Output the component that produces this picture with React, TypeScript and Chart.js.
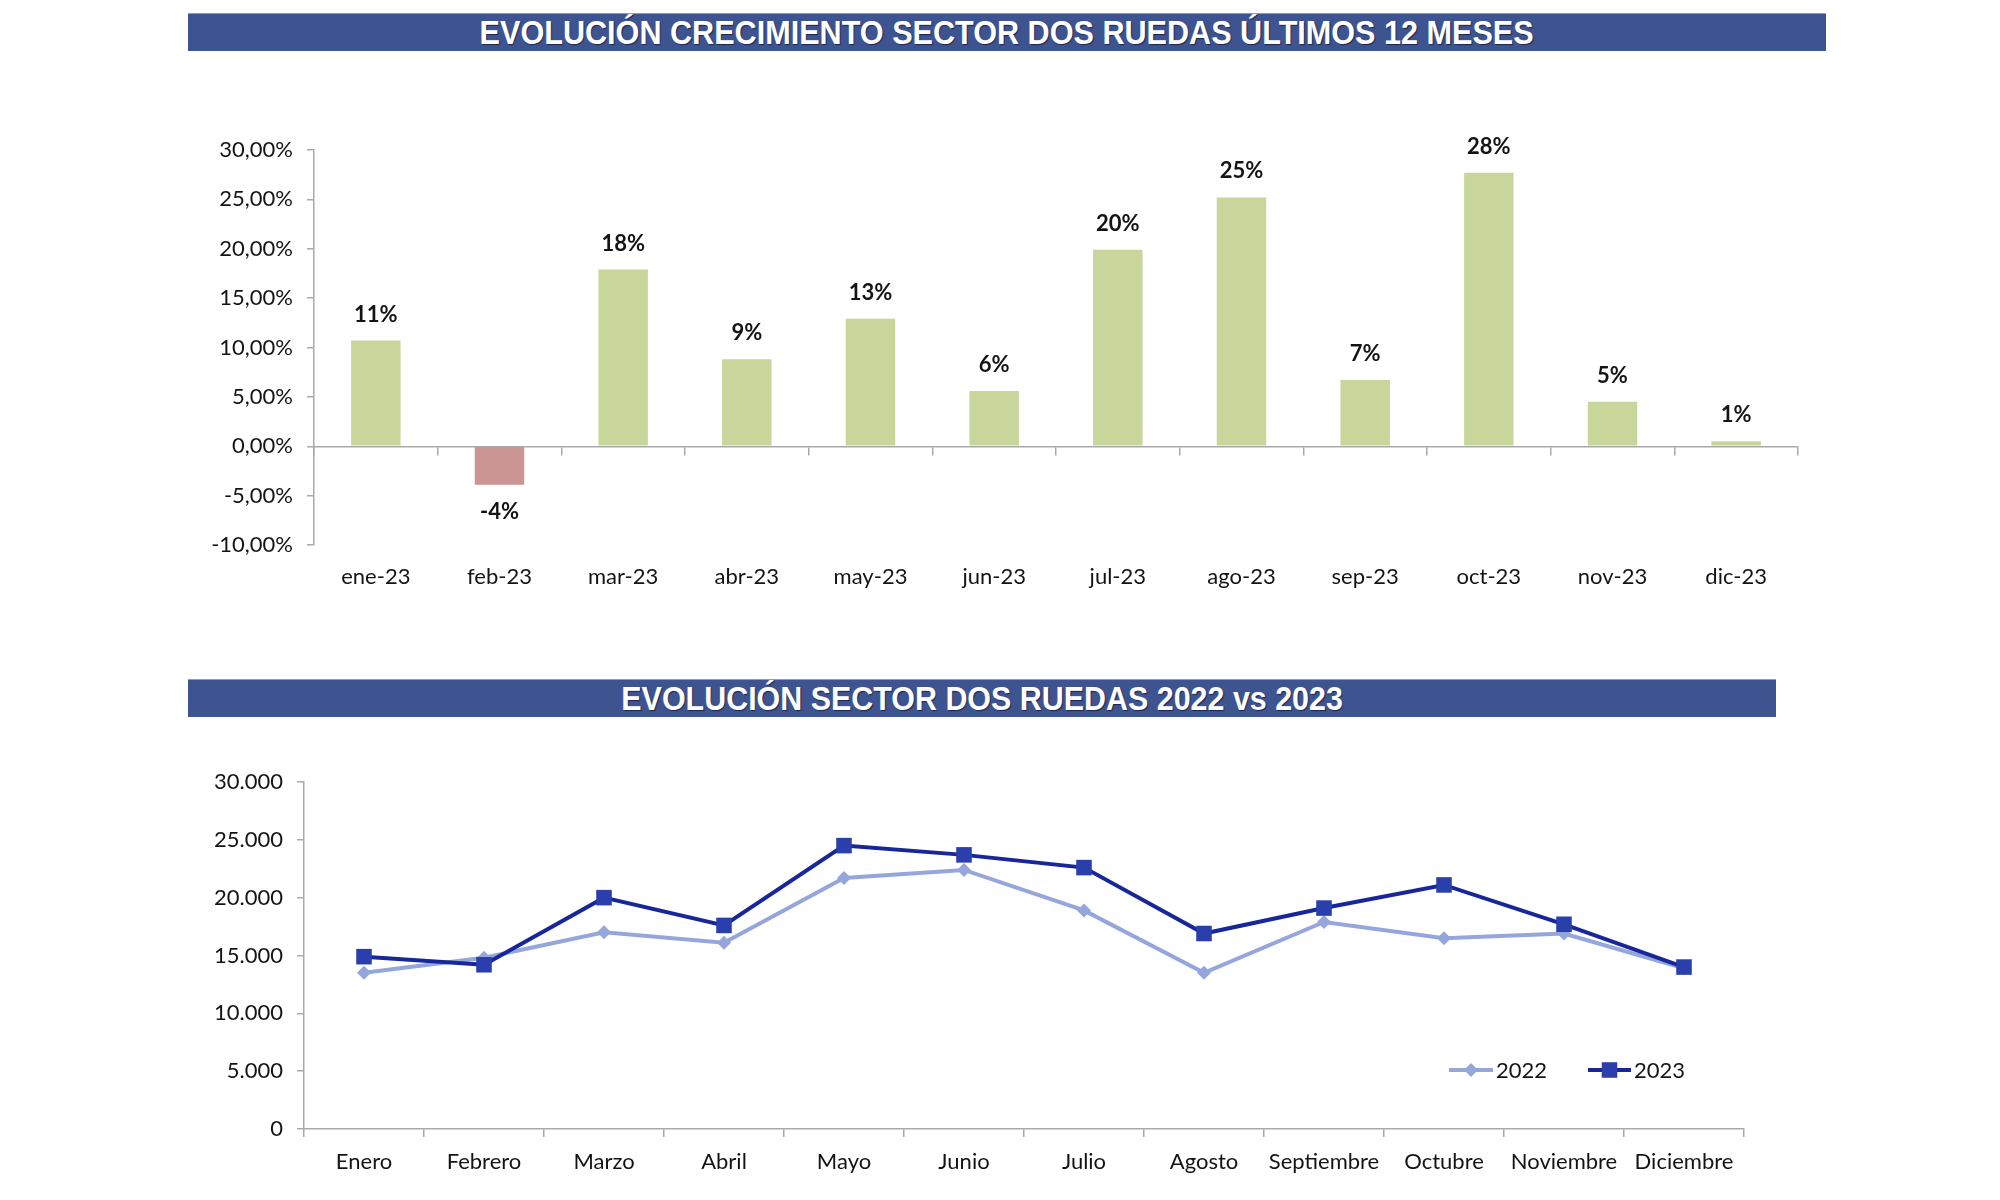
import React, { useEffect, useRef } from 'react';
import { Chart, registerables } from 'chart.js';

Chart.register(...registerables);

// ---------- data ----------
const months23 = ['ene-23', 'feb-23', 'mar-23', 'abr-23', 'may-23', 'jun-23', 'jul-23', 'ago-23', 'sep-23', 'oct-23', 'nov-23', 'dic-23'];
const growthPct = [10.7, -3.9, 17.9, 8.8, 12.9, 5.6, 19.9, 25.2, 6.7, 27.7, 4.5, 0.5];
const growthAxis = { min: -10, max: 30, step: 5 };

const monthNames = ['Enero', 'Febrero', 'Marzo', 'Abril', 'Mayo', 'Junio', 'Julio', 'Agosto', 'Septiembre', 'Octubre', 'Noviembre', 'Diciembre'];
const units2022 = [13500, 14800, 17000, 16100, 21700, 22400, 18900, 13500, 17900, 16500, 16900, 13900];
const units2023 = [14900, 14200, 20000, 17600, 24500, 23700, 22600, 16900, 19100, 21100, 17700, 14000];
const unitsAxis = { min: 0, max: 30000, step: 5000 };
const seriesNames = ['2022', '2023'];

const title1 = 'EVOLUCIÓN CRECIMIENTO SECTOR DOS RUEDAS ÚLTIMOS 12 MESES';
const title2 = 'EVOLUCIÓN SECTOR DOS RUEDAS 2022 vs 2023';

// ---------- styles ----------
const FONT = 'Lato, "Open Sans", sans-serif';
const TEXT = '#141414';
const AXIS = '#a9a9a9';
const GREEN = '#c9d69b';
const RED = '#cb9593';
const C2022 = '#94a6dc';
const C2023_LINE = '#17279a';
const C2023_PT = '#2a3eac';
const TICK_SIZE = 22;

const pctFmt = (v: number) => v.toFixed(2).replace('.', ',') + '%';
const thFmt = (v: number) => String(v).replace(/\B(?=(\d{3})+(?!\d))/g, '.');

const barLabels = {
  id: 'barLabels',
  afterDatasetsDraw(chart: any) {
    const { ctx } = chart;
    const meta = chart.getDatasetMeta(0);
    ctx.save();
    ctx.font = `bold 22px ${FONT}`;
    ctx.fillStyle = TEXT;
    ctx.textAlign = 'center';
    ctx.textBaseline = 'middle';
    meta.data.forEach((el: any, i: number) => {
      const v = growthPct[i];
      const y = v >= 0 ? el.y - 26 : el.y + 27;
      ctx.fillText(Math.round(v) + '%', el.x, y);
    });
    ctx.restore();
  },
};

const lineLegend = {
  id: 'lineLegend',
  afterDraw(chart: any) {
    const { ctx, chartArea } = chart;
    const y = chartArea.bottom - 59;
    const items = [
      { x0: chartArea.right - 295, x1: chartArea.right - 251, ds: chart.data.datasets[0] },
      { x0: chartArea.right - 156, x1: chartArea.right - 113, ds: chart.data.datasets[1] },
    ];
    ctx.save();
    items.forEach((it) => {
      const ds = it.ds;
      ctx.strokeStyle = ds.borderColor;
      ctx.lineWidth = ds.borderWidth;
      ctx.beginPath();
      ctx.moveTo(it.x0, y);
      ctx.lineTo(it.x1, y);
      ctx.stroke();
      const cx = (it.x0 + it.x1) / 2;
      ctx.fillStyle = ds.pointBackgroundColor;
      ctx.beginPath();
      if (ds.pointStyle === 'rectRot') {
        const r = ds.pointRadius;
        ctx.moveTo(cx - r, y);
        ctx.lineTo(cx, y - r);
        ctx.lineTo(cx + r, y);
        ctx.lineTo(cx, y + r);
        ctx.closePath();
      } else {
        const h = ds.pointRadius * Math.SQRT1_2;
        ctx.rect(cx - h, y - h, 2 * h, 2 * h);
      }
      ctx.fill();
      ctx.fillStyle = TEXT;
      ctx.font = `${TICK_SIZE}px ${FONT}`;
      ctx.textAlign = 'left';
      ctx.textBaseline = 'middle';
      ctx.fillText(ds.label, it.x1 + 3, y + 1);
    });
    ctx.restore();
  },
};

function BarChart() {
  const ref = useRef<HTMLCanvasElement>(null);
  useEffect(() => {
    const chart = new Chart(ref.current as HTMLCanvasElement, {
      type: 'bar',
      data: {
        labels: months23,
        datasets: [
          {
            data: growthPct,
            backgroundColor: growthPct.map((v) => (v >= 0 ? GREEN : RED)),
            barPercentage: 0.4,
            categoryPercentage: 1,
            borderWidth: 0,
          },
        ],
      },
      options: {
        animation: false,
        responsive: false,
        layout: { padding: { top: 50, right: 102, bottom: 0, left: 0 } },
        plugins: { legend: { display: false }, tooltip: { enabled: false } },
        scales: {
          x: {
            type: 'category',
            offset: true,
            grid: { display: false, drawTicks: false },
            border: { display: false },
            ticks: { font: { family: FONT, size: TICK_SIZE }, color: TEXT, padding: 19, maxRotation: 0 },
            afterFit: (s: any) => { s.height = 75; },
          },
          x0: {
            type: 'category',
            position: { y: 0 },
            offset: true,
            ticks: { display: false },
            grid: { display: true, drawOnChartArea: false, drawTicks: true, tickLength: 8, offset: true, color: AXIS, lineWidth: 1.5 },
            border: { display: true, color: AXIS, width: 1.5 },
          },
          y: {
            min: growthAxis.min,
            max: growthAxis.max,
            ticks: { stepSize: growthAxis.step, callback: (v: any) => pctFmt(Number(v)), font: { family: FONT, size: TICK_SIZE }, color: TEXT, padding: 14 },
            grid: { display: true, drawOnChartArea: false, drawTicks: true, tickLength: 7, color: AXIS, lineWidth: 1.5 },
            border: { display: true, color: AXIS, width: 1.5 },
            afterFit: (s: any) => { s.width = 214; },
          },
        },
      } as any,
      plugins: [barLabels],
    });
    return () => chart.destroy();
  }, []);
  return <canvas ref={ref} width={1800} height={520} style={{ position: 'absolute', left: 100, top: 100 }} />;
}

function LineChart() {
  const ref = useRef<HTMLCanvasElement>(null);
  useEffect(() => {
    const chart = new Chart(ref.current as HTMLCanvasElement, {
      type: 'line',
      data: {
        labels: monthNames,
        datasets: [
          {
            label: seriesNames[0],
            data: units2022,
            borderColor: C2022,
            borderWidth: 4,
            pointStyle: 'rectRot',
            pointRadius: 7,
            pointBackgroundColor: C2022,
            pointBorderWidth: 0,
            order: 1,
            tension: 0,
          },
          {
            label: seriesNames[1],
            data: units2023,
            borderColor: C2023_LINE,
            borderWidth: 4,
            pointStyle: 'rect',
            pointRadius: 11,
            pointBackgroundColor: C2023_PT,
            pointBorderWidth: 0,
            order: 0,
            tension: 0,
          },
        ],
      },
      options: {
        animation: false,
        responsive: false,
        layout: { padding: { top: 42, right: 156, bottom: 0, left: 0 } },
        plugins: { legend: { display: false }, tooltip: { enabled: false } },
        scales: {
          x: {
            type: 'category',
            offset: true,
            grid: { display: true, drawOnChartArea: false, drawTicks: true, tickLength: 8, offset: true, color: AXIS, lineWidth: 1.5 },
            border: { display: true, color: AXIS, width: 1.5 },
            ticks: { font: { family: FONT, size: TICK_SIZE }, color: TEXT, padding: 12, maxRotation: 0, autoSkip: false },
            afterFit: (s: any) => { s.height = 71; },
          },
          y: {
            min: unitsAxis.min,
            max: unitsAxis.max,
            ticks: { stepSize: unitsAxis.step, callback: (v: any) => thFmt(Number(v)), font: { family: FONT, size: TICK_SIZE }, color: TEXT, padding: 14 },
            grid: { display: true, drawOnChartArea: false, drawTicks: true, tickLength: 7, color: AXIS, lineWidth: 1.5 },
            border: { display: true, color: AXIS, width: 1.5 },
            afterFit: (s: any) => { s.width = 204; },
          },
        },
      } as any,
      plugins: [lineLegend],
    });
    return () => chart.destroy();
  }, []);
  return <canvas ref={ref} width={1800} height={460} style={{ position: 'absolute', left: 100, top: 740 }} />;
}

const barStyle = (left: number, top: number, width: number): React.CSSProperties => ({
  position: 'absolute',
  left,
  top,
  width,
  height: 38,
  background: '#3e5491',
  borderTop: '1px solid #8b9ac4',
  boxSizing: 'border-box',
  color: '#ffffff',
  fontFamily: '"Liberation Sans", Arial, sans-serif',
  fontSize: 34,
  fontWeight: 'bold',
  lineHeight: '36px',
  textAlign: 'center',
  whiteSpace: 'nowrap',
  textShadow: '1px 1px 1px rgba(20,30,70,0.85)',
});

const titleSpan = (sx: number): React.CSSProperties => ({ display: 'inline-block', transform: `scaleX(${sx})`, transformOrigin: 'center' });

export default function App() {
  return (
    <div style={{ position: 'absolute', left: 0, top: 0, width: 2000, height: 1200, background: '#ffffff', overflow: 'hidden' }}>
      <div style={barStyle(188, 13, 1638)}><span style={titleSpan(0.9)}>{title1}</span></div>
      <div style={barStyle(188, 679, 1588)}><span style={titleSpan(0.895)}>{title2}</span></div>
      <BarChart />
      <LineChart />
    </div>
  );
}
